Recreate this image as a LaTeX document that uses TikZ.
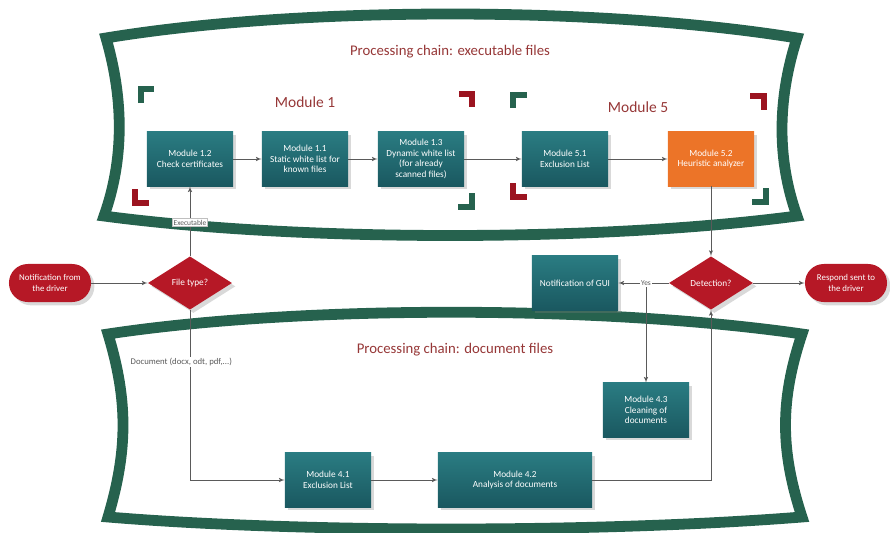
\documentclass[tikz,border=0pt]{standalone}
\usepackage{fontspec}
\setmainfont{Carlito}
\usepackage{tikz}
\usetikzlibrary{arrows}
\usetikzlibrary{positioning}
\usetikzlibrary{shapes.geometric}
\usetikzlibrary{shadows}
\definecolor{framegreen}{RGB}{38,98,78}
\definecolor{boxtop}{RGB}{42,124,130}
\definecolor{boxbot}{RGB}{26,88,96}
\definecolor{flowred}{RGB}{182,24,38}
\definecolor{heurorange}{RGB}{236,116,40}
\definecolor{titlered}{RGB}{150,55,55}
\definecolor{linegray}{RGB}{90,90,90}
\tikzset{frame/.style = {draw=framegreen, line width=0.27cm, line join=miter}}
\tikzset{cornerg/.style = {draw=framegreen, line width=0.13cm, line join=miter}}
\tikzset{cornerr/.style = {draw=flowred!85!black, line width=0.13cm, line join=miter}}
\tikzset{box/.style = {rectangle, top color=boxtop, bottom color=boxbot, draw=none, text=white,
                       align=center, minimum width=2.15cm, minimum height=1.35cm, inner sep=1pt,
                       font=\fontsize{6.6}{7.6}\selectfont, drop shadow={opacity=0.3}}}
\tikzset{choice/.style = {diamond, fill=flowred, text=white, minimum width=2.1cm,
                          minimum height=1.33cm, inner sep=0pt, font=\fontsize{6.6}{7.6}\selectfont,
                          drop shadow={opacity=0.3}}}
\tikzset{capsule/.style = {rectangle, rounded corners=0.47cm, fill=flowred, text=white, align=center,
                           minimum width=2.05cm, minimum height=0.95cm, inner sep=1pt,
                           font=\fontsize{6.3}{7.3}\selectfont, drop shadow={opacity=0.3}}}
\tikzset{title/.style = {text=titlered, font=\fontsize{10.5}{12}\selectfont}}
\tikzset{lbl/.style = {fill=white, text=linegray, inner sep=1pt, font=\fontsize{5.3}{6}\selectfont}}
\tikzset{arr/.style = {-latex', draw=linegray, line width=0.45pt}}

\begin{document}
\begin{tikzpicture}[x=0.025cm, y=-0.025cm]
    \useasboundingbox (0,0) rectangle (890,533);

    \draw [frame] (106,38) .. controls (300,6) and (600,6) .. (797,38)
                  .. controls (777,100) and (777,160) .. (797,216)
                  .. controls (600,242) and (300,242) .. (104,216)
                  .. controls (124,160) and (124,100) .. (106,38) -- cycle;
    \draw [frame] (108,334) .. controls (300,305) and (600,305) .. (802,334)
                  .. controls (780,400) and (780,450) .. (802,517)
                  .. controls (600,533) and (300,533) .. (108,517)
                  .. controls (128,450) and (128,400) .. (108,334) -- cycle;

    \node [title] (exectitle) at (450,52) {Processing chain: executable files};
    \node [title] (doctitle) at (455,350) {Processing chain: document files};
    \node [title, font=\fontsize{11}{12}\selectfont] (mod1) at (305,102) {Module 1};
    \node [title, font=\fontsize{11}{12}\selectfont] (mod5) at (638,107) {Module 5};

    \draw [cornerg] (141,103) |- (154,89);
    \draw [cornerr] (459,94) -| (472,107);
    \draw [cornerr] (135,189) |- (149,203);
    \draw [cornerg] (472,193) |- (458,207);
    \draw [cornerg] (513,108) |- (527,95);
    \draw [cornerr] (750,96) -| (764,110);
    \draw [cornerr] (513,183) |- (527,197);
    \draw [cornerg] (766,188) |- (752,202);

    \node [box] (m12) at (190,159) {Module 1.2\\Check certificates};
    \node [box] (m11) at (305,159) {Module 1.1\\Static white list for\\known files};
    \node [box] (m13) at (421,159) {Module 1.3\\Dynamic white list\\(for already\\scanned files)};
    \node [box] (m51) at (565,159) {Module 5.1\\Exclusion List};
    \node [box, top color=heurorange, bottom color=heurorange] (m52) at (711,159) {Module 5.2\\Heuristic analyzer};

    \node [capsule] (notif) at (50,283) {Notification from\\the driver};
    \node [choice] (ftype) at (190,283) {File type?};
    \node [box] (gui) at (575,283) {Notification of GUI};
    \node [choice] (detect) at (711,283) {Detection?};
    \node [capsule] (respond) at (846,283) {Respond sent to\\the driver};

    \node [box] (m43) at (646,410) {Module 4.3\\Cleaning of\\documents};
    \node [box] (m41) at (328,480) {Module 4.1\\Exclusion List};
    \node [box, minimum width=3.85cm] (m42) at (515,480) {Module 4.2\\Analysis of documents};

    \draw [arr] (notif) -- (ftype);
    \draw [arr] (ftype) -- node [lbl, draw=gray!50, pos=0.48] {Executable} (m12);
    \draw [arr] (ftype) |- (m41);
    \node [lbl, anchor=west, font=\fontsize{6.2}{7}\selectfont] (doclbl) at (129,362) {Document (docx, odt, pdf,...)};
    \draw [arr] (m12) -- (m11);
    \draw [arr] (m11) -- (m13);
    \draw [arr] (m13) -- (m51);
    \draw [arr] (m51) -- (m52);
    \draw [arr] (m52) -- (detect);
    \draw [arr] (detect) -- (respond);
    \coordinate (yes) at (646,283);
    \draw [arr] (yes) -- (m43);
    \draw [arr] (detect) -- node [lbl, pos=0.45] {Yes} (gui);
    \draw [arr] (m41) -- (m42);
    \draw [arr] (m42) -| (detect);
\end{tikzpicture}
\end{document}
